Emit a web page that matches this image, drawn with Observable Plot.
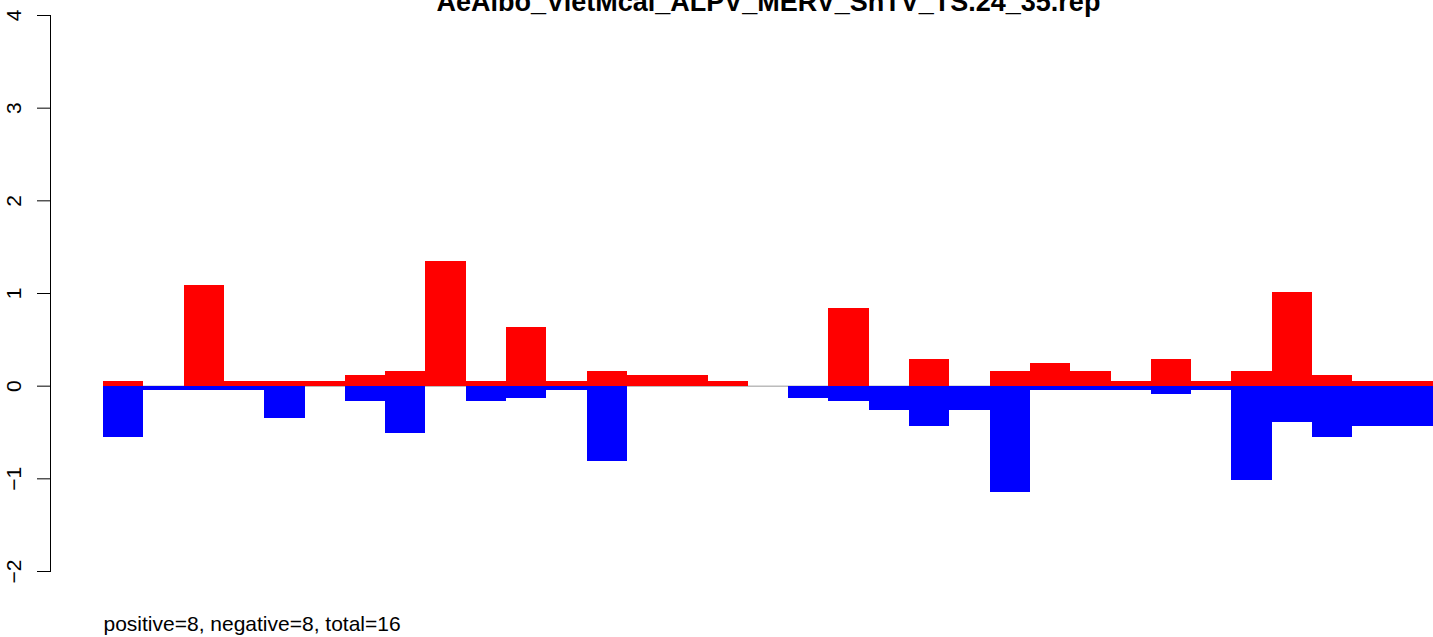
<!DOCTYPE html>
<html>
<head>
<meta charset="utf-8">
<script src="https://cdn.jsdelivr.net/npm/d3@7"></script>
<script src="https://cdn.jsdelivr.net/npm/@observablehq/plot@0.6"></script>
<style>
  html, body { margin: 0; padding: 0; background: white; }
  #chart { width: 1433px; height: 637px; overflow: hidden; }
</style>
</head>
<body>
<div id="chart"></div>
<script>
const title = "AeAlbo_VietMcal_ALPV_MERV_SnTV_TS.24_35.rep";
const caption = "positive=8, negative=8, total=16";
const yTicks = [-2, -1, 0, 1, 2, 3, 4];

// positive (red) and negative (blue) values per bin
const positive = [0.045, 0, 1.09, 0.045, 0.045, 0.045, 0.12, 0.16, 1.35, 0.045, 0.63, 0.045, 0.16, 0.12, 0.12, 0.045, 0,
                  0, 0.84, 0, 0.29, 0, 0.16, 0.25, 0.16, 0.045, 0.29, 0.045, 0.16, 1.01, 0.12, 0.045, 0.045];
const negative = [-0.55, -0.045, -0.045, -0.045, -0.35, 0, -0.17, -0.51, 0, -0.17, -0.13, -0.045, -0.81, 0, 0, 0, 0,
                  -0.13, -0.17, -0.26, -0.43, -0.26, -1.15, -0.045, -0.045, -0.045, -0.087, -0.045, -1.02, -0.39, -0.55, -0.43, -0.43];

const bins = positive.map((_, i) => i + 1);
const posData = bins.map((b, i) => ({bin: b, value: positive[i]}));
const negData = bins.map((b, i) => ({bin: b, value: negative[i]}));

const fmt = d => (d < 0 ? "\u2212" + (-d) : String(d));

const chart = Plot.plot({
  width: 1433,
  height: 637,
  marginLeft: 103,
  marginRight: 0,
  marginTop: 15,
  marginBottom: 66,
  style: {fontFamily: "'Liberation Sans', Arial, Helvetica, sans-serif", fontSize: "21px", background: "white", color: "black"},
  x: {type: "band", domain: bins, padding: 0, round: false, axis: null},
  y: {domain: [-2, 4], axis: null},
  marks: [
    Plot.ruleY([0], {stroke: "#9a9a9a", strokeWidth: 1}),
    Plot.barY(posData, {x: "bin", y1: 0, y2: "value", fill: "#ff0000", shapeRendering: "crispEdges"}),
    Plot.barY(negData, {x: "bin", y1: 0, y2: "value", fill: "#0000ff", shapeRendering: "crispEdges"}),
    Plot.axisY(yTicks, {anchor: "left", tickSize: 13, tickPadding: 17, tickRotate: -90, dx: -53,
                        tickFormat: fmt, fontSize: 21, stroke: "black", fill: "black", label: null}),
    Plot.frame({anchor: "left", dx: -53, stroke: "black"}),
    Plot.text([title], {frameAnchor: "top", lineAnchor: "bottom", dy: -5, fontSize: 27, fontWeight: "bold", fill: "black"}),
    Plot.text([caption], {frameAnchor: "bottom-left", textAnchor: "start", lineAnchor: "bottom", dy: 59, fontSize: 21, fill: "black"})
  ]
});
document.getElementById("chart").appendChild(chart);
</script>
</body>
</html>
